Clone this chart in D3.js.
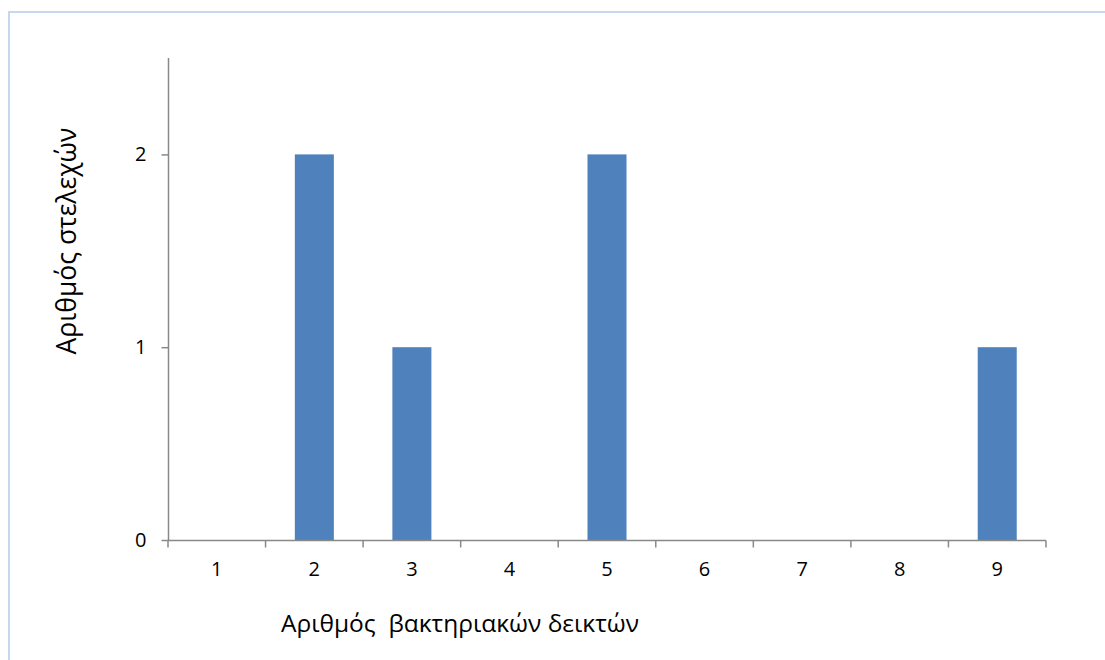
<!DOCTYPE html>
<html>
<head>
<meta charset="utf-8">
<script src="https://cdn.jsdelivr.net/npm/d3@7"></script>
<style>
  html, body { margin: 0; padding: 0; background: #fff; }
  svg { display: block; }
  text { font-family: "Open Sans", "Noto Sans", sans-serif; fill: #000; white-space: pre; }
</style>
</head>
<body>
<svg id="chart" width="1105" height="660"></svg>
<script>
// Number of strains per count of bacterial indicators
const categories = ["1", "2", "3", "4", "5", "6", "7", "8", "9"];
const strainCounts = [0, 2, 1, 0, 2, 0, 0, 0, 1];
const yTickValues = [0, 1, 2];
const xTitle = "Αριθμός  βακτηριακών δεικτών";
const yTitle = "Αριθμός στελεχών";

const svg = d3.select("#chart");

// Chart area frame
svg.append("rect")
  .attr("x", 9).attr("y", 12)
  .attr("width", 1120).attr("height", 680)
  .attr("fill", "none")
  .attr("stroke", "#c6d8ef")
  .attr("stroke-width", 2);

const plot = { left: 168, right: 1046, top: 58, bottom: 540 };

const x = d3.scaleBand()
  .domain(categories)
  .range([plot.left, plot.right])
  .padding(0);

const y = d3.scaleLinear()
  .domain([0, 2.5])
  .range([plot.bottom, plot.top]);

const axisColor = "#898989";

// Bars
const barW = x.bandwidth() * 0.4;
svg.append("g").selectAll("rect")
  .data(categories.map((c, i) => ({ c, v: strainCounts[i] })))
  .join("rect")
  .attr("x", d => x(d.c) + (x.bandwidth() - barW) / 2)
  .attr("y", d => y(d.v))
  .attr("width", barW)
  .attr("height", d => y(0) - y(d.v))
  .attr("fill", "#4f81bd");

// Y axis
const yAxis = svg.append("g")
  .attr("transform", `translate(${plot.left + 0.5},0)`)
  .call(d3.axisLeft(y).tickValues(yTickValues).tickFormat(d3.format("d"))
    .tickSize(7).tickPadding(15));
yAxis.select(".domain").attr("stroke", axisColor).attr("stroke-width", 1.5)
  .attr("d", `M0,${plot.top}V${plot.bottom}`);
yAxis.selectAll(".tick line").attr("stroke", axisColor).attr("stroke-width", 1.5);
yAxis.selectAll(".tick text")
  .style("font-size", "20px")
  .style("font-family", "'Open Sans', 'Noto Sans', sans-serif")
  .attr("fill", "#000");

// X axis: ticks at category boundaries
const xAxisG = svg.append("g")
  .attr("transform", `translate(0,${plot.bottom + 0.5})`);
xAxisG.append("line")
  .attr("x1", plot.left).attr("x2", plot.right)
  .attr("stroke", axisColor).attr("stroke-width", 1.5);
const boundaries = categories.map(c => x(c)).concat([x(categories[categories.length - 1]) + x.bandwidth()]);
xAxisG.selectAll("line.tk")
  .data(boundaries)
  .join("line")
  .attr("class", "tk")
  .attr("x1", d => d).attr("x2", d => d)
  .attr("y1", 0).attr("y2", 7)
  .attr("stroke", axisColor).attr("stroke-width", 1.5);
xAxisG.selectAll("text")
  .data(categories)
  .join("text")
  .attr("x", d => x(d) + x.bandwidth() / 2)
  .attr("y", 35)
  .attr("text-anchor", "middle")
  .style("font-size", "20px")
  .text(d => d);

// Axis titles
svg.append("text")
  .attr("x", 460).attr("y", 632)
  .attr("text-anchor", "middle")
  .style("font-size", "24.5px")
  .text(xTitle);

svg.append("text")
  .attr("transform", "translate(76,241) rotate(-90)")
  .attr("text-anchor", "middle")
  .style("font-size", "26.5px")
  .text(yTitle);
</script>
</body>
</html>
